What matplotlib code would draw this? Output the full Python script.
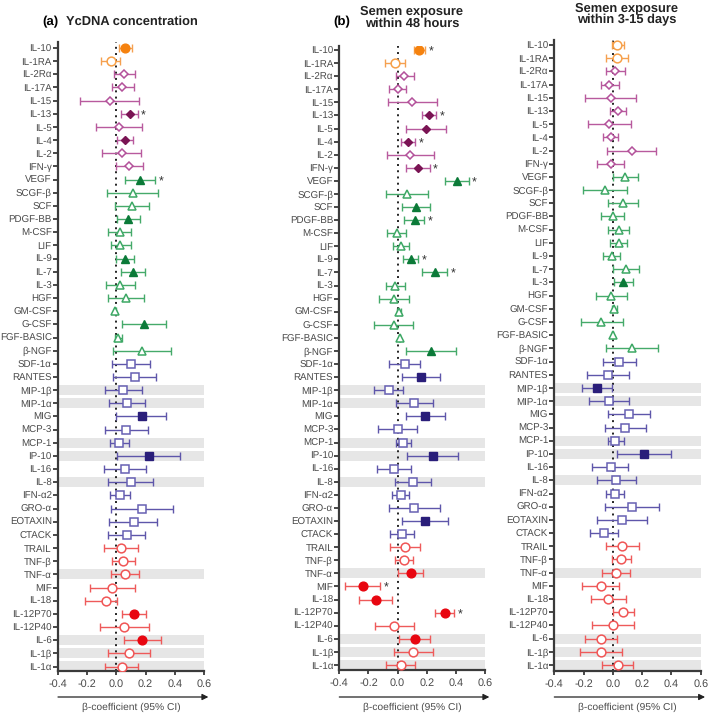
import matplotlib.pyplot as plt

plt.rcParams['font.family'] = ['Liberation Sans', 'DejaVu Sans']
plt.rcParams['text.hinting'] = 'no_hinting'

# cytokines, top to bottom
names = ["IL-10", "IL-1RA", "IL-2Rα", "IL-17A", "IL-15", "IL-13", "IL-5", "IL-4", "IL-2", "IFN-γ",
         "VEGF", "SCGF-β", "SCF", "PDGF-BB", "M-CSF", "LIF", "IL-9", "IL-7", "IL-3", "HGF",
         "GM-CSF", "G-CSF", "FGF-BASIC", "β-NGF", "SDF-1α", "RANTES", "MIP-1β", "MIP-1α", "MIG",
         "MCP-3", "MCP-1", "IP-10", "IL-16", "IL-8", "IFN-α2", "GRO-α", "EOTAXIN", "CTACK",
         "TRAIL", "TNF-β", "TNF-α", "MIF", "IL-18", "IL-12P70", "IL-12P40", "IL-6", "IL-1β", "IL-1α"]
# group sizes: orange circles, purple diamonds, green triangles, blue squares, red circles
group_sizes = [2, 8, 14, 14, 10]
shaded = ["MIP-1β", "MIP-1α", "MCP-1", "IP-10", "IL-8", "TNF-α", "IL-6", "IL-1β", "IL-1α"]

# (a) YcDNA concentration
est_a = [0.062, -0.039, 0.053, 0.041, -0.046, 0.092, 0.018, 0.059, 0.037, 0.089,
         0.162, 0.112, 0.105, 0.078, 0.023, 0.027, 0.059, 0.114, 0.027, 0.064,
         -0.007, 0.188, 0.011, 0.174, 0.098, 0.126, 0.043, 0.073, 0.172,
         0.066, 0.021, 0.220, 0.062, 0.098, 0.027, 0.174, 0.119, 0.071,
         0.032, 0.046, 0.057, -0.027, -0.073, 0.121, 0.055, 0.174, 0.087, 0.037]
lo_a = [0.016, -0.105, -0.014, -0.030, -0.247, 0.030, -0.137, 0.005, -0.096, -0.005,
        0.057, -0.064, -0.007, 0.005, -0.057, -0.034, -0.005, 0.032, -0.069, -0.057,
        -0.010, 0.041, -0.011, -0.025, -0.030, -0.023, -0.078, -0.048, -0.002,
        -0.078, -0.041, 0.005, -0.082, -0.057, -0.041, -0.039, -0.050, -0.057,
        -0.082, -0.030, -0.037, -0.178, -0.213, 0.039, -0.112, 0.050, -0.057, -0.078]
hi_a = [0.110, 0.027, 0.126, 0.119, 0.153, 0.146, 0.178, 0.112, 0.169, 0.183,
        0.265, 0.288, 0.224, 0.162, 0.103, 0.100, 0.119, 0.199, 0.126, 0.190,
        -0.004, 0.339, 0.039, 0.373, 0.229, 0.272, 0.172, 0.197, 0.339,
        0.215, 0.085, 0.435, 0.206, 0.250, 0.096, 0.387, 0.279, 0.195,
        0.146, 0.128, 0.153, 0.128, 0.003, 0.206, 0.224, 0.304, 0.229, 0.151]
filled_a = ["IL-10", "IL-13", "IL-4", "VEGF", "PDGF-BB", "IL-9", "IL-7", "G-CSF", "MIG", "IP-10",
            "IL-12P70", "IL-6"]
star_a = ["IL-13", "VEGF"]

# (b) semen exposure within 48 hours
est_b = [0.149, -0.018, 0.046, 0.000, 0.100, 0.215, 0.195, 0.073, 0.087, 0.137,
         0.405, 0.064, 0.128, 0.117, -0.007, 0.023, 0.089, 0.256, -0.016, -0.025,
         0.009, -0.025, 0.016, 0.229, 0.048, 0.158, -0.059, 0.112, 0.190,
         0.002, 0.037, 0.240, -0.025, 0.105, 0.021, 0.114, 0.185, 0.030,
         0.048, 0.041, 0.089, -0.240, -0.151, 0.323, -0.023, 0.117, 0.105, 0.023]
lo_b = [0.110, -0.089, -0.014, -0.060, -0.069, 0.165, 0.057, 0.023, -0.076, 0.055,
        0.323, -0.078, 0.027, 0.046, -0.073, -0.034, 0.034, 0.169, -0.078, -0.130,
        -0.007, -0.160, 0.012, 0.057, -0.057, 0.027, -0.160, -0.014, 0.055,
        -0.135, -0.014, 0.066, -0.142, -0.018, -0.037, -0.059, 0.027, -0.055,
        -0.055, -0.021, 0.000, -0.362, -0.265, 0.256, -0.156, 0.011, -0.025, -0.080]
hi_b = [0.188, 0.050, 0.110, 0.057, 0.270, 0.263, 0.332, 0.119, 0.249, 0.220,
        0.487, 0.206, 0.222, 0.181, 0.057, 0.080, 0.142, 0.341, 0.050, 0.080,
        0.023, 0.108, 0.020, 0.400, 0.156, 0.293, 0.039, 0.240, 0.327,
        0.133, 0.092, 0.416, 0.094, 0.231, 0.076, 0.291, 0.346, 0.114,
        0.156, 0.108, 0.176, -0.121, -0.039, 0.389, 0.114, 0.222, 0.240, 0.121]
filled_b = ["IL-10", "IL-13", "IL-5", "IL-4", "IFN-γ", "VEGF", "SCF", "PDGF-BB", "IL-9", "IL-7",
            "β-NGF", "RANTES", "MIG", "IP-10", "EOTAXIN", "TNF-α", "MIF", "IL-18", "IL-12P70", "IL-6"]
star_b = ["IL-10", "IL-13", "IL-4", "IFN-γ", "VEGF", "PDGF-BB", "IL-9", "IL-7", "MIF", "IL-12P70"]

# (c) semen exposure within 3-15 days
est_c = [0.030, 0.030, 0.014, -0.025, -0.016, 0.034, -0.025, -0.016, 0.132, -0.016,
         0.084, -0.055, 0.068, -0.002, 0.039, 0.039, -0.009, 0.087, 0.071, -0.011,
         0.009, -0.080, 0.000, 0.130, 0.043, -0.034, -0.109, -0.027, 0.109,
         0.084, 0.018, 0.210, -0.014, 0.023, 0.014, 0.130, 0.062, -0.062,
         0.064, 0.055, 0.023, -0.084, -0.032, 0.068, 0.000, -0.082, -0.080, 0.034]
lo_c = [-0.009, -0.046, -0.050, -0.084, -0.189, -0.018, -0.169, -0.068, -0.043, -0.105,
        0.000, -0.203, -0.032, -0.080, -0.030, -0.021, -0.066, -0.002, 0.005, -0.116,
        -0.005, -0.219, -0.004, -0.050, -0.066, -0.175, -0.214, -0.162, -0.036,
        -0.057, -0.034, 0.027, -0.141, -0.109, -0.046, -0.055, -0.105, -0.155,
        -0.050, -0.009, -0.071, -0.210, -0.146, 0.000, -0.141, -0.191, -0.223, -0.071]
hi_c = [0.073, 0.100, 0.084, 0.039, 0.159, 0.089, 0.121, 0.036, 0.298, 0.073,
        0.169, 0.096, 0.173, 0.075, 0.112, 0.098, 0.052, 0.180, 0.139, 0.098,
        0.025, 0.066, 0.004, 0.305, 0.159, 0.107, -0.005, 0.107, 0.255,
        0.228, 0.073, 0.394, 0.105, 0.155, 0.073, 0.314, 0.230, 0.032,
        0.178, 0.121, 0.114, 0.039, 0.091, 0.141, 0.144, 0.027, 0.064, 0.139]
filled_c = ["IL-3", "MIP-1β", "IP-10"]
star_c = []

# per group: marker, marker size, filled colour, open edge colour, CI colour
styles = [
    ("o", 6.3, "#F5820F", "#F7A048", "#F5A050"),
    ("D", 3.9, "#7A1454", "#B3519A", "#B85A9E"),
    ("^", 5.6, "#0B7A38", "#3DA865", "#45AA6A"),
    ("s", 5.6, "#2A1E7A", "#6760B3", "#5E56AA"),
    ("o", 6.3, "#E80610", "#F05656", "#EE5A5A"),
]

W, H = 709, 714
# pixel geometry of each panel: left, right, top, bottom, first row, last row
panels = [
    (est_a, lo_a, hi_a, filled_a, star_a, (58, 204, 42, 671, 48, 666.5)),
    (est_b, lo_b, hi_b, filled_b, star_b, (339.3, 485, 46, 670, 50, 665)),
    (est_c, lo_c, hi_c, filled_c, star_c, (554.3, 700.7, 40, 671, 45, 665)),
]

fig = plt.figure(figsize=(W / 100, H / 100), dpi=100)
axis_col = "#3a3a3a"
text_col = "#4a4a4a"

for est, lo, hi, filled, stars, (l, r, t, b, r0, rn) in panels:
    ax = fig.add_axes([l / W, 1 - b / H, (r - l) / W, (b - t) / H])
    step = (rn - r0) / (len(names) - 1)
    ax.set_xlim(-0.4, 0.6)
    ax.set_ylim((b - r0) / step, (t - r0) / step)

    for i, n in enumerate(names):
        if n in shaded:
            ax.axhspan(i - 0.38, i + 0.38, color="#e6e6e6", lw=0, zorder=0)

    ax.axvline(0, color="#222222", ls=(0, (1, 2.2)), lw=1.4, zorder=1)

    i = 0
    for (mk, ms, fc, ec, lc), size in zip(styles, group_sizes):
        for k in range(i, i + size):
            ax.errorbar(est[k], k, xerr=[[est[k] - lo[k]], [hi[k] - est[k]]], fmt="none",
                        ecolor=lc, elinewidth=1.0, capsize=2.9, capthick=1.0, zorder=2)
            if names[k] in filled:
                ax.plot(est[k], k, marker=mk, ms=ms, mfc=fc, mec=fc, mew=1.0, zorder=3)
            else:
                ax.plot(est[k], k, marker=mk, ms=ms, mfc="white", mec=ec, mew=1.1, zorder=3)
            if names[k] in stars:
                ax.text(hi[k] + 0.04, k + 0.15, "*", fontsize=9, color="#333333",
                        ha="center", va="center")
        i += size

    ax.set_yticks(range(len(names)))
    ax.set_yticklabels(names, fontsize=7.0, color=text_col)
    ax.set_xticks([-0.4, -0.2, 0.0, 0.2, 0.4, 0.6])
    ax.set_xticklabels(["-0.4", "-0.2", "0.0", "0.2", "0.4", "0.6"], fontsize=7.8, color=text_col)
    ax.tick_params(axis="y", length=3.5, width=1.3, color=axis_col, pad=1)
    ax.tick_params(axis="x", length=3, width=1.3, color=axis_col, pad=3)
    for s in ["top", "right"]:
        ax.spines[s].set_visible(False)
    for s in ["left", "bottom"]:
        ax.spines[s].set_linewidth(1.6)
        ax.spines[s].set_color(axis_col)

    # arrow and axis label under the panel
    tr = ax.get_xaxis_transform()
    ya = -(697 - b) / (b - t)
    ax.annotate("", xy=(0.63, ya), xytext=(-0.4, ya), xycoords=tr, textcoords=tr,
                arrowprops=dict(arrowstyle="-|>", color="#222222", lw=0.9,
                                mutation_scale=9, shrinkA=0, shrinkB=0),
                annotation_clip=False)
    ax.text(0.1, -(707.5 - b) / (b - t), "β-coefficient (95% CI)", transform=tr,
            ha="center", va="center", fontsize=7.4, color=text_col)

# titles
fig.text(50 / W, 1 - 22 / H, "(a)", fontsize=9.5, fontweight="bold", ha="center", va="center")
fig.text(132 / W, 1 - 22 / H, "YcDNA concentration", fontsize=9.3, fontweight="bold",
         ha="center", va="center", color="#222222")
fig.text(342 / W, 1 - 22 / H, "(b)", fontsize=9.5, fontweight="bold", ha="center", va="center")
fig.text(412 / W, 1 - 17 / H, "Semen exposure\nwithin 48 hours", fontsize=9.3, fontweight="bold",
         ha="center", va="center", color="#222222", linespacing=1.05)
fig.text(627 / W, 1 - 14 / H, "Semen exposure\nwithin 3-15 days", fontsize=9.3, fontweight="bold",
         ha="center", va="center", color="#222222", linespacing=1.05)

fig.savefig("out.png", dpi=100)
